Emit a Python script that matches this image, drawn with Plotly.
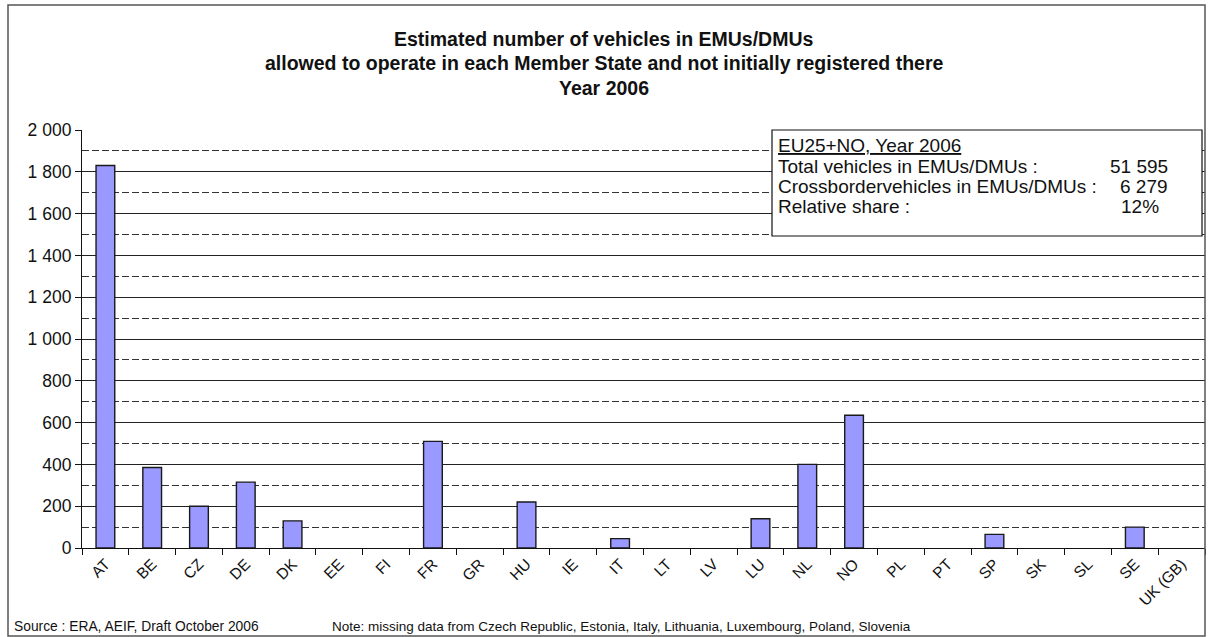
import plotly.graph_objects as go

# ---- data ----
countries = ["AT", "BE", "CZ", "DE", "DK", "EE", "FI", "FR", "GR", "HU", "IE", "IT",
             "LT", "LV", "LU", "NL", "NO", "PL", "PT", "SP", "SK", "SL", "SE", "UK (GB)"]
vehicles = [1830, 385, 200, 315, 130, None, None, 510, None, 220, None, 45,
            None, None, 140, 400, 635, None, None, 65, None, None, 100, None]
y_tickvals = [0, 200, 400, 600, 800, 1000, 1200, 1400, 1600, 1800, 2000]
y_ticktext = ["0", "200", "400", "600", "800", "1 000", "1 200", "1 400", "1 600", "1 800", "2 000"]

title_lines = ["Estimated number of vehicles in EMUs/DMUs",
               "allowed to operate in each Member State and not initially registered there",
               "Year 2006"]
box_labels = ["Total vehicles in EMUs/DMUs :", "Crossbordervehicles in EMUs/DMUs :", "Relative share :"]
box_values = ["51 595", "6 279", "12%"]
box_header = "EU25+NO, Year 2006"
source_text = "Source : ERA, AEIF, Draft October 2006"
note_text = "Note: missing data from Czech Republic, Estonia, Italy, Lithuania, Luxembourg, Poland, Slovenia"

# ---- layout geometry (pixels) ----
W, H = 1208, 637
L, R, T, B = 82, 3, 130, 89
PW, PH = W - L - R, H - T - B
FONT = "Liberation Sans, Arial, sans-serif"


def px(x):
    return (x - L) / PW


def py(y):
    return (H - B - y) / PH


fig = go.Figure()
fig.add_trace(go.Bar(
    x=countries, y=vehicles,
    marker=dict(color="#9999FF", line=dict(color="#1a1a1a", width=1.4)),
    showlegend=False,
))

shapes = [
    # outer chart frame
    dict(type="rect", xref="paper", yref="paper", x0=px(8), x1=px(1205), y0=py(636), y1=py(5),
         line=dict(color="#555555", width=1.5), fillcolor="rgba(0,0,0,0)", layer="above"),
    # info box
    dict(type="rect", xref="paper", yref="paper", x0=px(772), x1=px(1202), y0=py(236), y1=py(130),
         line=dict(color="#111111", width=1.2), fillcolor="white", layer="above"),
]

annotations = []
for line, yc in zip(title_lines, [39, 63, 88]):
    annotations.append(dict(text="<b>%s</b>" % line, xref="paper", yref="paper", x=px(604), y=py(yc),
                            xanchor="center", yanchor="middle", showarrow=False,
                            font=dict(family=FONT, size=19.5, color="#111111")))

BOX_FS = 19
annotations.append(dict(text="<u>%s</u>" % box_header, xref="paper", yref="paper", x=px(776), y=py(145),
                        xanchor="left", yanchor="middle", showarrow=False,
                        font=dict(family=FONT, size=BOX_FS, color="#111111")))
for lab, val, yc, xr in zip(box_labels, box_values, [166, 186, 206], [1170, 1170, 1161]):
    annotations.append(dict(text=lab, xref="paper", yref="paper", x=px(776), y=py(yc),
                            xanchor="left", yanchor="middle", showarrow=False,
                            font=dict(family=FONT, size=BOX_FS, color="#111111")))
    annotations.append(dict(text=val, xref="paper", yref="paper", x=px(xr), y=py(yc),
                            xanchor="right", yanchor="middle", showarrow=False,
                            font=dict(family=FONT, size=BOX_FS, color="#111111")))

annotations.append(dict(text=source_text, xref="paper", yref="paper", x=px(12), y=py(626),
                        xanchor="left", yanchor="middle", showarrow=False,
                        font=dict(family=FONT, size=13.8, color="#111111")))
annotations.append(dict(text=note_text, xref="paper", yref="paper", x=px(330), y=py(626),
                        xanchor="left", yanchor="middle", showarrow=False,
                        font=dict(family=FONT, size=13.5, color="#111111")))

fig.update_layout(
    width=W, height=H,
    margin=dict(l=L, r=R, t=T, b=B, pad=0),
    paper_bgcolor="white", plot_bgcolor="white",
    bargap=0.6,
    shapes=shapes, annotations=annotations,
    font=dict(family=FONT, color="#111111"),
)
fig.update_xaxes(
    type="category", range=[-0.5, len(countries) - 0.5],
    tickson="boundaries", ticks="outside", ticklen=6, tickcolor="#111111", tickwidth=1.2,
    tickangle=-45, tickfont=dict(family=FONT, size=15.5, color="#111111"),
    showline=True, linecolor="#111111", linewidth=1.2, showgrid=False, zeroline=False,
)
fig.update_yaxes(
    range=[0, 2000], tickmode="array", tickvals=y_tickvals, ticktext=y_ticktext,
    ticks="outside", ticklen=6, tickcolor="#111111", tickwidth=1.2,
    tickfont=dict(family=FONT, size=17.5, color="#111111"),
    showline=True, linecolor="#111111", linewidth=1.2,
    showgrid=True, gridcolor="#222222", gridwidth=1.2, zeroline=False,
    minor=dict(tickmode="linear", tick0=100, dtick=200, showgrid=True, gridcolor="#333333",
               gridwidth=1.2, griddash="7px,3px", ticks=""),
)

fig.write_html("out.html", config={"displayModeBar": False},
               post_script="document.body.style.margin='0px';document.body.style.overflow='hidden';")
